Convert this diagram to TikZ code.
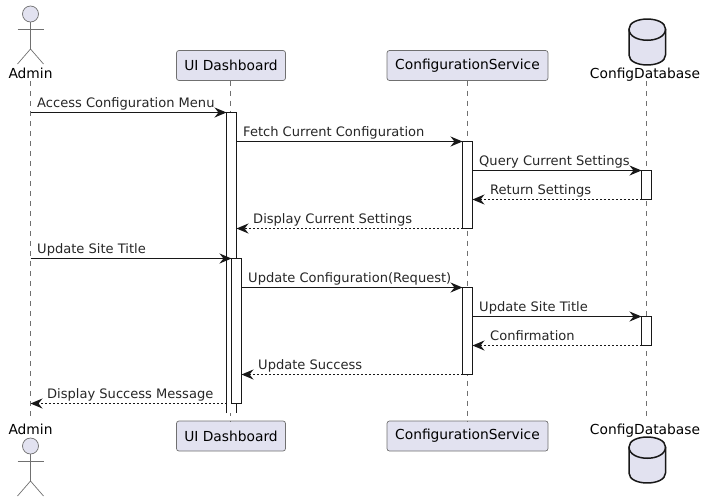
\documentclass[tikz,border=0pt]{standalone}
\usepackage{fontspec}
\setmainfont{DejaVu Sans}
\usetikzlibrary{arrows.meta}
\definecolor{pfill}{HTML}{E2E2F0}
\definecolor{pline}{HTML}{181818}
\definecolor{thinline}{HTML}{707070}
\tikzset{
  partbox/.style={draw=thinline,fill=pfill,line width=0.7pt,rounded corners=2.5pt,inner sep=0pt,outer sep=0pt,minimum height=30pt,font=\fontsize{13.8}{16}\selectfont,text=black},
  actname/.style={inner sep=0pt,anchor=base,font=\fontsize{13.8}{16}\selectfont,text=black},
  lifeline/.style={draw=thinline,line width=0.6pt,dash pattern=on 5pt off 5pt},
  activation/.style={fill=white,inner sep=0pt,outer sep=0pt,minimum width=10pt,anchor=north west},
  actbar/.style={draw=pline,line width=1pt},
  msg/.style={draw=pline,line width=1pt,-{Stealth[length=12pt,width=10pt,inset=4pt,color=pline]}},
  reply/.style={msg,dash pattern=on 2pt off 2pt},
  msglabel/.style={inner sep=0pt,anchor=base west,font=\fontsize{13.05}{15}\selectfont,text=black!85},
  stick/.style={draw=thinline,line width=0.7pt},
  stickhead/.style={draw=thinline,fill=pfill,line width=0.7pt},
  dbshape/.style={draw=pline,line width=1.5pt}
}
\newcommand{\stickman}[1]{%
  \draw[stickhead] (30.5,#1) circle (8);
  \draw[stick] (30.5,#1+8) -- (30.5,#1+35);
  \draw[stick] (17.5,#1+15) -- (43.5,#1+15);
  \draw[stick] (17.5,#1+50) -- (30.5,#1+35) -- (43.5,#1+50);
}
\newcommand{\dbdraw}[1]{%
  \draw[dbshape,fill=pfill] (629,#1+10) .. controls (629,#1-3.3) and (665.5,#1-3.3) .. (665.5,#1+10)
     -- (665.5,#1+36) .. controls (665.5,#1+49.3) and (629,#1+49.3) .. (629,#1+36) -- cycle;
  \draw[dbshape] (629,#1+10) .. controls (629,#1+25) and (665.5,#1+25) .. (665.5,#1+10);
}
\begin{document}
\begin{tikzpicture}[x=1pt,y=-1pt]
\useasboundingbox (0,0) rectangle (706,501);

% participants, top
\stickman{14}
\node[actname] (adminT) at (30.5,78) {Admin};
\node[partbox,minimum width=109pt] (uiT) at (231,65.5) {UI Dashboard};
\node[partbox,minimum width=161pt] (csT) at (467.5,65.5) {ConfigurationService};
\dbdraw{19}
\node[actname] (dbT) at (645,78) {ConfigDatabase};

% participants, bottom
\stickman{446}
\node[actname] (adminB) at (30.5,434) {Admin};
\node[partbox,minimum width=109pt] (uiB) at (231,436) {UI Dashboard};
\node[partbox,minimum width=161pt] (csB) at (467.5,436) {ConfigurationService};
\dbdraw{437}
\node[actname] (dbB) at (645,434) {ConfigDatabase};

% lifeline ends
\coordinate (adminL1) at (30.5,81);
\coordinate (adminL2) at (30.5,416);
\coordinate (dbL1) at (646.5,81);
\coordinate (dbL2) at (646.5,416);
\draw[lifeline] (adminL1) -- (adminL2);
\draw[lifeline] (uiT.south -| 230.5,0) -- (uiB.north -| 230.5,0);
\draw[lifeline] (csT.south) -- (csB.north);
\draw[lifeline] (dbL1) -- (dbL2);

% activations
\node[activation,minimum height=300.5pt] (uiA) at (226.5,112.5) {};
\draw[actbar] (uiA.south west) -- (uiA.north west) -- (uiA.north east) -- (uiA.south east);
\node[activation,minimum height=145pt,draw=pline,line width=1pt] (uiC) at (231.5,258.5) {};
\node[activation,minimum height=87pt,draw=pline,line width=1pt] (csA) at (462.5,141.5) {};
\node[activation,minimum height=87pt,draw=pline,line width=1pt] (csC) at (462.5,287.5) {};
\node[activation,minimum height=29pt,draw=pline,line width=1pt] (dbA) at (641.5,170.5) {};
\node[activation,minimum height=29pt,draw=pline,line width=1pt] (dbC) at (641.5,316.5) {};

% messages
\draw[msg] (adminL1 |- uiA.north west) -- (uiA.north west);
\draw[msg] (uiA.east |- csA.north west) -- (csA.north west);
\draw[msg] (csA.east |- dbA.north west) -- (dbA.north west);
\draw[reply] (dbA.south west) -- (csA.east |- dbA.south west);
\draw[reply] (csA.south west) -- (uiA.east |- csA.south west);
\draw[msg] (adminL1 |- uiC.north west) -- (uiC.north west);
\draw[msg] (uiC.east |- csC.north west) -- (csC.north west);
\draw[msg] (csC.east |- dbC.north west) -- (dbC.north west);
\draw[reply] (dbC.south west) -- (csC.east |- dbC.south west);
\draw[reply] (csC.south west) -- (uiC.east |- csC.south west);
\draw[reply] (uiA.west |- uiC.south) -- (adminL1 |- uiC.south);

% labels
\node[msglabel] (m1) at (37,107) {Access Configuration Menu};
\node[msglabel] (m2) at (243,136) {Fetch Current Configuration};
\node[msglabel] (m3) at (479,165) {Query Current Settings};
\node[msglabel] (m4) at (490,194) {Return Settings};
\node[msglabel] (m5) at (253,223) {Display Current Settings};
\node[msglabel] (m6) at (37,253) {Update Site Title};
\node[msglabel] (m7) at (248,282) {Update Configuration(Request)};
\node[msglabel] (m8) at (479,311) {Update Site Title};
\node[msglabel] (m9) at (490,340) {Confirmation};
\node[msglabel] (m10) at (258,369) {Update Success};
\node[msglabel] (m11) at (47,398) {Display Success Message};
\end{tikzpicture}
\end{document}
